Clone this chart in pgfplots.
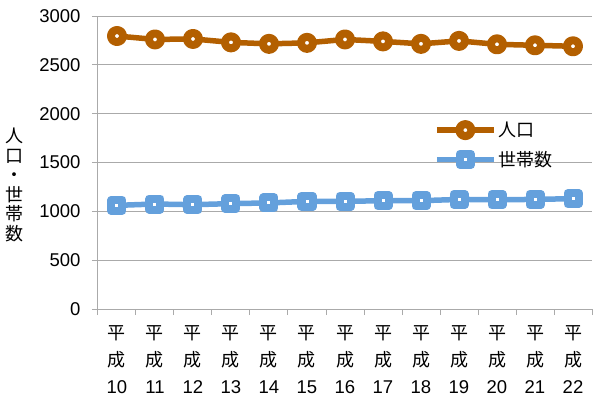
\documentclass[border=0pt]{standalone}
\usepackage{fontspec}
\setmainfont{Liberation Sans}
\newfontfamily\jp{Noto Sans CJK JP}
\usepackage{pgfplots}
\pgfplotsset{compat=1.18}
\definecolor{popc}{RGB}{179,95,0}
\definecolor{hhc}{RGB}{100,160,220}
\definecolor{gridc}{RGB}{170,170,170}
\newcommand{\hs}[1]{{\jp\fontsize{18bp}{27bp}\selectfont 平}\\{\jp\fontsize{18bp}{27bp}\selectfont 成}\\#1}
\begin{document}
\begin{tikzpicture}
\path[use as bounding box] (-98bp,-87bp) rectangle (495bp,309bp);
\begin{axis}[
  at={(0,0)}, anchor=south west,
  scale only axis, width=494bp, height=293bp,
  xmin=-0.5, xmax=12.5, ymin=0, ymax=3000,
  ytick={0,500,...,3000},
  xtick={-0.5,0.5,...,12.5}, xticklabels={},
  tick align=outside, major tick length=6bp,
  tick style={gridc, line width=1bp},
  ymajorgrids, grid style={gridc, line width=1bp},
  axis line style={gridc, line width=1bp},
  axis x line*=bottom, axis y line*=left,
  /pgf/number format/assume math mode=true,
  /pgf/number format/1000 sep={},
  yticklabel style={font=\fontsize{18.5bp}{20bp}\selectfont, xshift=-8bp},
  extra x ticks={0,1,...,12},
  extra x tick labels={{\hs{10}},{\hs{11}},{\hs{12}},{\hs{13}},{\hs{14}},{\hs{15}},{\hs{16}},{\hs{17}},{\hs{18}},{\hs{19}},{\hs{20}},{\hs{21}},{\hs{22}}},
  extra x tick style={major tick length=0pt, tick label style={align=center, font=\fontsize{18.5bp}{27bp}\selectfont, yshift=-13bp}},
  legend style={draw=none, fill=none, at={(rel axis cs:0.68,0.56)}, anchor=west, inner xsep=0pt, row sep=9bp, font=\jp\fontsize{18bp}{20bp}\selectfont},
  legend cell align=left,
  legend image code/.code={\draw[mark repeat=2,mark phase=2,#1] plot coordinates {(0bp,0bp) (28.5bp,0bp) (57bp,0bp)};},
  clip=false,
]
\addplot[popc, line width=5.5bp, line join=round, mark=*, mark size=6bp, mark options={fill=white, draw=popc, line width=8bp}]
  coordinates {(0,2795) (1,2760) (2,2765) (3,2730) (4,2715) (5,2725) (6,2760) (7,2740) (8,2715) (9,2745) (10,2710) (11,2700) (12,2690)};
\addlegendentry{人口}
\addplot[hhc, line width=5.5bp, line join=round, mark=square*, mark size=5.5bp, mark options={fill=white, draw=hhc, line width=8bp, line join=round}]
  coordinates {(0,1061) (1,1075) (2,1068) (3,1079) (4,1086) (5,1102) (6,1102) (7,1109) (8,1109) (9,1122) (10,1119) (11,1122) (12,1130)};
\addlegendentry{世帯数}
\node[align=center, font=\jp\fontsize{18bp}{19.5bp}\selectfont] at ([xshift=-83bp]rel axis cs:0,0.423) {人\\口\\・\\世\\帯\\数};
\end{axis}
\end{tikzpicture}
\end{document}
